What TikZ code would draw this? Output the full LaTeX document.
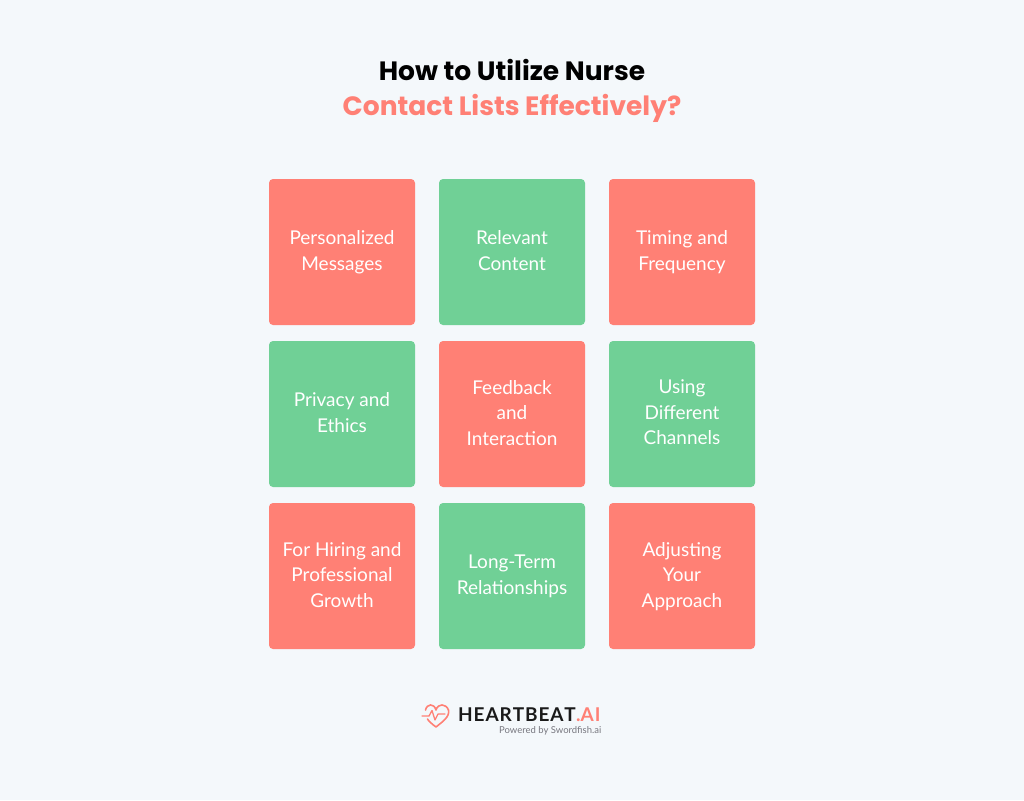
\documentclass[tikz,border=0pt]{standalone}
\usepackage{fontspec}
\setmainfont{Lato}
\newfontfamily\titlefont{Poppins}
\definecolor{coral}{HTML}{FF8075}
\definecolor{mint}{HTML}{70D096}
\definecolor{paper}{HTML}{F4F8FB}
\definecolor{ink}{HTML}{1A1A1A}
\definecolor{slate}{HTML}{77777F}
\tikzset{
  tile/.style={minimum size=146pt,inner sep=0pt,rounded corners=4pt,text=white,align=center,
    font=\fontsize{19}{25.5}\selectfont,text depth=3pt},
  heading/.style={inner sep=0pt,anchor=base,font=\titlefont\bfseries\fontsize{26.5}{30}\selectfont},
}
\begin{document}
\begin{tikzpicture}[x=1pt,y=-1pt]
    \fill[paper] (0,0) rectangle (1024,800);
    \useasboundingbox (0,0) rectangle (1024,800);
    \node[heading,text=black] (head1) at (512,80){How to Utilize Nurse};
    \node[heading,text=coral] (head2) at (512,115){Contact Lists Effectively?};
    % the nine tiles, row by row
    \foreach \n/\x/\y/\c/\t in {
      a/342/252/coral/{Personalized\\Messages},
      b/512/252/mint/{Relevant\\Content},
      c/682/252/coral/{Timing and\\Frequency},
      d/342/414/mint/{Privacy and\\Ethics},
      e/512/414/coral/{Feedback\\and\\Interaction},
      f/682/414/mint/{Using\\Different\\Channels},
      g/342/576/coral/{For Hiring and\\Professional\\Growth},
      h/512/576/mint/{Long-Term\\Relationships},
      i/682/576/coral/{Adjusting\\Your\\Approach}}{
    \node[tile,fill=\c] (\n) at (\x,\y){\t};
    }
    % logo
    \draw[coral,line width=1.6pt,line join=round,line cap=round]
      (425.5,710) .. controls (427,703.5) and (434,703) .. (436,710)
      .. controls (438,703) and (446,703.5) .. (448.5,710)
      .. controls (450,717) and (442,722) .. (436,727)
      .. controls (432,724) and (429,721.5) .. (427.5,719);
    \draw[coral,line width=1.3pt,line join=round,line cap=round]
      (422,716) -- (429,716) -- (432,710.5) -- (435,720) -- (438,714) -- (445,714);
    \node[inner sep=0pt,anchor=west,text=ink,font=\fontsize{19}{22}\selectfont\bfseries] (logo) at (458,714.5){H\kern.9pt E\kern.9pt A\kern.9pt R\kern.9pt T\kern.9pt B\kern.9pt E\kern.9pt A\kern.9pt T};
    \node[inner sep=0pt,anchor=west,text=coral,font=\fontsize{19}{22}\selectfont\bfseries] (ai) at (logo.east){.A\kern1pt I};
    \node[inner sep=0pt,anchor=east,text=slate,font=\fontsize{9.5}{12}\selectfont] (powered) at (601.5,731){Powered by Swordfish.ai};
\end{tikzpicture}
\end{document}
